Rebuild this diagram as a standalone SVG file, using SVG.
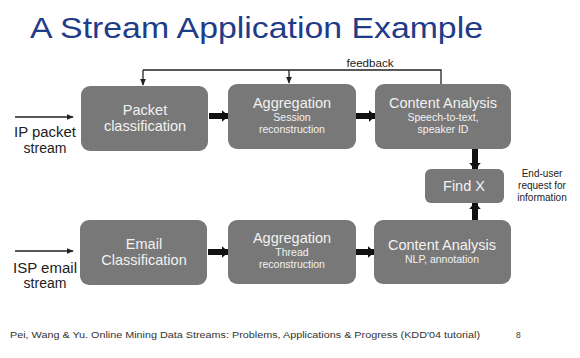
<svg xmlns="http://www.w3.org/2000/svg" width="580" height="358" viewBox="0 0 580 358">
  <defs>
    <style>
      .box { fill: #787878; }
      .main { font-family: "Liberation Sans", Arial, sans-serif; font-size: 14.5px; fill: #f2f2f2; text-anchor: middle; }
      .sub { font-family: "Liberation Sans", Arial, sans-serif; font-size: 10.5px; fill: #f2f2f2; text-anchor: middle; }
      .lbl { font-family: "Liberation Sans", Arial, sans-serif; font-size: 14px; fill: #222; text-anchor: middle; }
      .note { font-family: "Liberation Sans", Arial, sans-serif; font-size: 10px; fill: #222; text-anchor: middle; }
      .thin { stroke: #222; stroke-width: 1.3; fill: none; }
      .thick { stroke: #111; stroke-width: 6; fill: none; }
    </style>
    <marker id="thinHead" viewBox="0 0 10 10" refX="9" refY="5" markerUnits="userSpaceOnUse" markerWidth="7" markerHeight="6" preserveAspectRatio="none" orient="auto">
      <path d="M0,0 L10,5 L0,10 z" fill="#222"/>
    </marker>
    <marker id="thickHead" viewBox="0 0 10 10" refX="9" refY="5" markerUnits="userSpaceOnUse" markerWidth="7" markerHeight="12" preserveAspectRatio="none" orient="auto">
      <path d="M0,0 L10,5 L0,10 z" fill="#111"/>
    </marker>
  </defs>

  <rect width="580" height="358" fill="#ffffff"/>

  <!-- title -->
  <text x="30" y="38" font-family="'Liberation Sans', Arial, sans-serif" font-size="30" fill="#1f3c88" textLength="453" lengthAdjust="spacingAndGlyphs">A Stream Application Example</text>

  <!-- connectors -->
  <g id="connectors">
    <!-- feedback loop -->
    <polyline class="thin" points="441,84 441,70 143,70"/>
    <line class="thin" x1="143" y1="70" x2="143" y2="85" marker-end="url(#thinHead)"/>
    <line class="thin" x1="289" y1="70" x2="289" y2="83" marker-end="url(#thinHead)"/>
    <text x="370" y="67" class="note" textLength="47" lengthAdjust="spacingAndGlyphs">feedback</text>

    <!-- input streams -->
    <line class="thin" x1="15" y1="117" x2="73" y2="117" marker-end="url(#thinHead)"/>
    <line class="thin" x1="15" y1="251" x2="73" y2="251" marker-end="url(#thinHead)"/>

    <!-- pipeline row 1 -->
    <line class="thick" x1="209" y1="116" x2="228" y2="116" marker-end="url(#thickHead)"/>
    <line class="thick" x1="356" y1="116" x2="375" y2="116" marker-end="url(#thickHead)"/>

    <!-- pipeline row 2 -->
    <line class="thick" x1="208" y1="252" x2="228" y2="252" marker-end="url(#thickHead)"/>
    <line class="thick" x1="356" y1="252" x2="374" y2="252" marker-end="url(#thickHead)"/>

    <!-- into Find X -->
    <line class="thick" x1="475" y1="149" x2="475" y2="169" marker-end="url(#thickHead)"/>
    <line class="thick" x1="475" y1="220" x2="475" y2="203" marker-end="url(#thickHead)"/>
  </g>

  <!-- stream labels -->
  <text x="45" y="137" class="lbl" textLength="62" lengthAdjust="spacingAndGlyphs">IP packet</text>
  <text x="45" y="153" class="lbl">stream</text>
  <text x="45" y="273" class="lbl" textLength="64" lengthAdjust="spacingAndGlyphs">ISP email</text>
  <text x="45" y="288" class="lbl">stream</text>

  <!-- row 1 -->
  <g id="packet-classification">
    <rect class="box" x="81" y="86" width="127" height="65" rx="9"/>
    <text x="145" y="115" class="main">Packet</text>
    <text x="145" y="131" class="main">classification</text>
  </g>
  <g id="session-aggregation">
    <rect class="box" x="228" y="84" width="128" height="65" rx="9"/>
    <text x="292" y="108" class="main">Aggregation</text>
    <text x="292" y="121" class="sub">Session</text>
    <text x="292" y="133" class="sub">reconstruction</text>
  </g>
  <g id="speech-analysis">
    <rect class="box" x="375" y="84" width="136" height="65" rx="9"/>
    <text x="443" y="108" class="main">Content Analysis</text>
    <text x="443" y="121" class="sub">Speech-to-text,</text>
    <text x="443" y="133" class="sub">speaker ID</text>
  </g>

  <!-- query node -->
  <g id="find-x">
    <rect class="box" x="425" y="169" width="79" height="34" rx="6"/>
    <text x="464" y="191" class="main">Find X</text>
  </g>
  <g id="end-user-note">
    <text x="542" y="177" class="note">End-user</text>
    <text x="542" y="189" class="note">request for</text>
    <text x="542" y="201" class="note">information</text>
  </g>

  <!-- row 2 -->
  <g id="email-classification">
    <rect class="box" x="80" y="220" width="127" height="65" rx="9"/>
    <text x="144" y="249" class="main">Email</text>
    <text x="144" y="265" class="main">Classification</text>
  </g>
  <g id="thread-aggregation">
    <rect class="box" x="228" y="220" width="128" height="64" rx="9"/>
    <text x="292" y="243" class="main">Aggregation</text>
    <text x="292" y="256" class="sub">Thread</text>
    <text x="292" y="268" class="sub">reconstruction</text>
  </g>
  <g id="text-analysis">
    <rect class="box" x="374" y="220" width="137" height="64" rx="9"/>
    <text x="442" y="250" class="main">Content Analysis</text>
    <text x="442" y="263" class="sub">NLP, annotation</text>
  </g>

  <!-- footer -->
  <text x="10" y="338" font-family="'Liberation Sans', Arial, sans-serif" font-size="8.5" fill="#333" textLength="470" lengthAdjust="spacingAndGlyphs">Pei, Wang &amp; Yu. Online Mining Data Streams: Problems, Applications &amp; Progress  (KDD'04 tutorial)</text>
  <text x="516" y="338" font-family="'Liberation Sans', Arial, sans-serif" font-size="8.5" fill="#333">8</text>
</svg>
